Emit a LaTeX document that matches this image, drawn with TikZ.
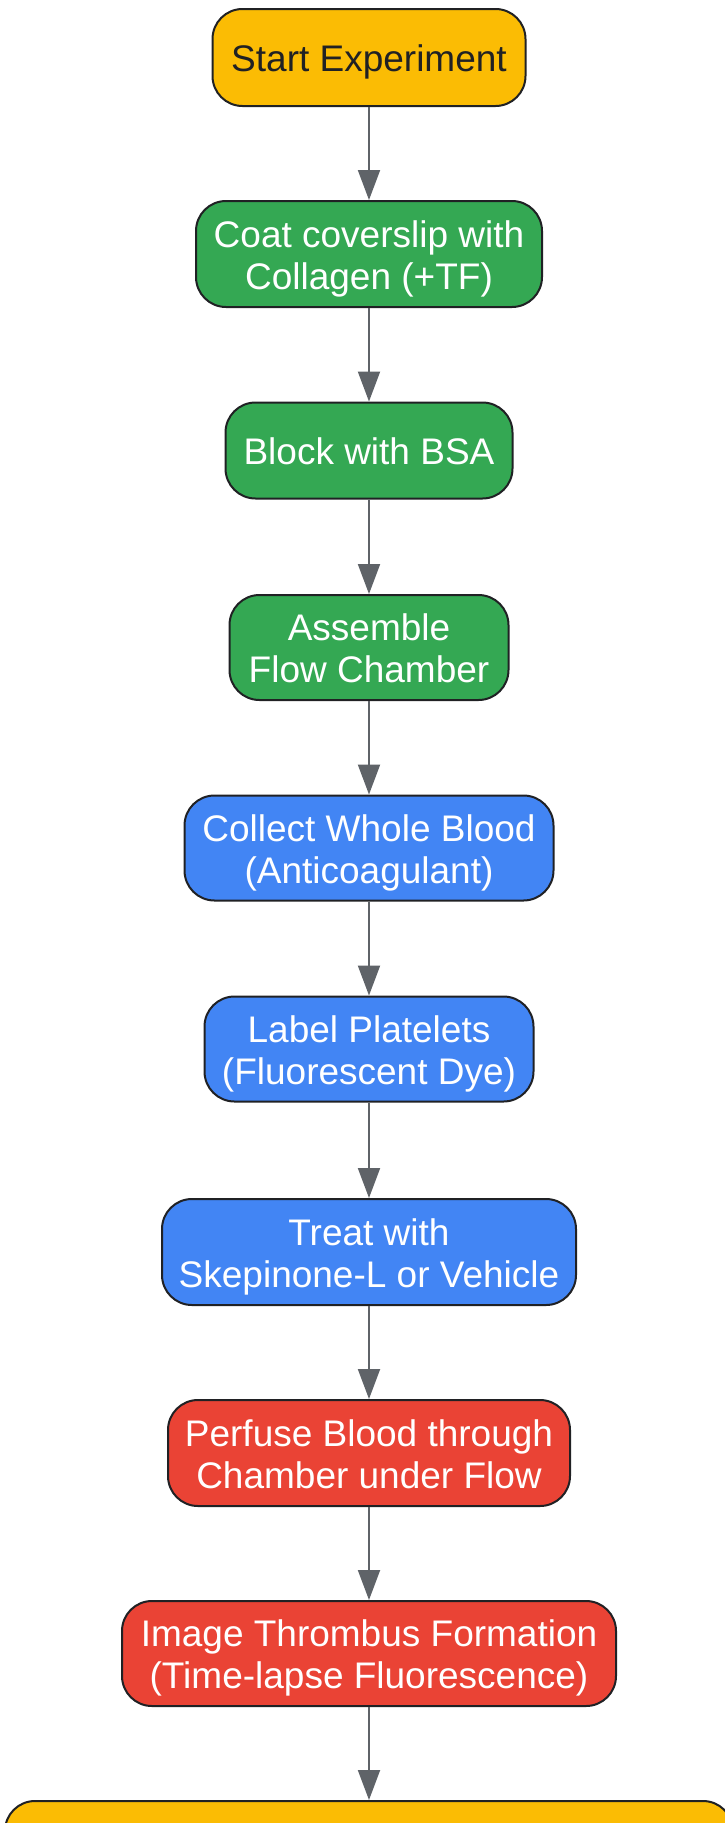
\documentclass[tikz,border=0pt]{standalone}
\usepackage{fontspec}
\setmainfont{Liberation Sans}
\usetikzlibrary{arrows.meta}
\definecolor{gyellow}{HTML}{FBBC04}
\definecolor{ggreen}{HTML}{34A853}
\definecolor{gblue}{HTML}{4285F4}
\definecolor{gred}{HTML}{EA4335}
\definecolor{gborder}{HTML}{202124}
\definecolor{garrow}{HTML}{5F6368}
\definecolor{gtext}{HTML}{202124}
\newcommand\onetext[1]{\raisebox{-14.2pt}[0pt][0pt]{#1}}
\newcommand\twotext[2]{\raisebox{7pt}[0pt][0pt]{\begin{tabular}[t]{@{}c@{}}#1\\#2\end{tabular}}}
\tikzset{
  stepbox/.style={draw=gborder, line width=2pt, rounded corners=30pt,
    inner sep=0pt, font=\fontsize{37}{42}\selectfont,
    text=white},
  startbox/.style={stepbox, fill=gyellow, text=gtext},
  greenbox/.style={stepbox, fill=ggreen},
  bluebox/.style={stepbox, fill=gblue},
  redbox/.style={stepbox, fill=gred},
  flow/.style={draw=garrow, line width=2pt, -{Triangle[length=30pt, width=22pt]}}
}
\begin{document}
\begin{tikzpicture}[x=1pt, y=-1pt]
\clip (0,0) rectangle (725,1823);
\fill[white] (0,0) rectangle (725,1823);
\node[startbox, minimum width=313pt, minimum height=97pt] (n1) at (369,57.5) {\onetext{Start Experiment}};
\node[greenbox, minimum width=346pt, minimum height=106pt] (n2) at (369,254) {\twotext{Coat coverslip with}{Collagen (+TF)}};
\node[greenbox, minimum width=287pt, minimum height=96pt] (n3) at (369,450.5) {\onetext{Block with BSA}};
\node[greenbox, minimum width=279pt, minimum height=105pt] (n4) at (369,647.5) {\twotext{Assemble}{Flow Chamber}};
\node[bluebox, minimum width=369pt, minimum height=105pt] (n5) at (369,848) {\twotext{Collect Whole Blood}{(Anticoagulant)}};
\node[bluebox, minimum width=329pt, minimum height=105pt] (n6) at (369,1049) {\twotext{Label Platelets}{(Fluorescent Dye)}};
\node[bluebox, minimum width=414pt, minimum height=106pt] (n7) at (369,1252) {\twotext{Treat with}{Skepinone-L or Vehicle}};
\node[redbox, minimum width=402pt, minimum height=106pt] (n8) at (369,1453) {\twotext{Perfuse Blood through}{Chamber under Flow}};
\node[redbox, minimum width=494pt, minimum height=105pt] (n9) at (369,1653.5) {\twotext{Image Thrombus Formation}{(Time-lapse Fluorescence)}};
\node[startbox, minimum width=728pt, minimum height=105pt] (n10) at (369,1853.5) {};
\draw[flow] (n1.south) -- (n2.north);
\draw[flow] (n2.south) -- (n3.north);
\draw[flow] (n3.south) -- (n4.north);
\draw[flow] (n4.south) -- (n5.north);
\draw[flow] (n5.south) -- (n6.north);
\draw[flow] (n6.south) -- (n7.north);
\draw[flow] (n7.south) -- (n8.north);
\draw[flow] (n8.south) -- (n9.north);
\draw[flow] (n9.south) -- (n10.north);
\end{tikzpicture}
\end{document}
